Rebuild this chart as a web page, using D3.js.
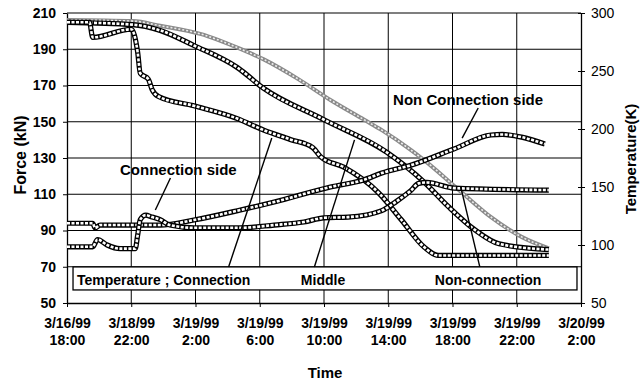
<!DOCTYPE html>
<html>
<head>
<meta charset="utf-8">
<script src="https://cdn.jsdelivr.net/npm/d3@7"></script>
<style>
  body { margin: 0; background: #fff; }
  svg text { font-family: "Liberation Sans", Arial, sans-serif; fill: #000; }
</style>
</head>
<body>
<div id="chart"></div>
<script>
// x axis: hours after 3/18/99 18:00
var tickHours = [0, 4, 8, 12, 16, 20, 24, 28, 32];
var tickDates = ["3/16/99", "3/18/99", "3/19/99", "3/19/99", "3/19/99", "3/19/99", "3/19/99", "3/19/99", "3/20/99"];
var tickTimes = ["18:00", "22:00", "2:00", "6:00", "10:00", "14:00", "18:00", "22:00", "2:00"];
var forceTicks = [50, 70, 90, 110, 130, 150, 170, 190, 210];
var tempTicks = [50, 100, 150, 200, 250, 300];

// temperatures (K), right axis
var conTempH = [0, 1.4, 1.6, 4.0, 4.4, 4.56, 5.06, 5.3, 5.7, 7.9, 10.6, 12.25, 13.9, 15.3, 15.8, 17.25, 19.4, 20.8, 22.25, 23.1, 30];
var conTempK = [292, 292, 279, 286, 266, 248, 243, 234, 228, 220, 209, 199, 191, 184, 176, 167, 145, 122, 98, 91, 91];
var midTempH = [0, 4.06, 5.8, 7.9, 10.6, 12.25, 16, 19.9, 22.25, 23.75, 25.4, 26.9, 30];
var midTempK = [292, 290, 285, 272, 253, 235, 208, 180, 154, 133, 113, 101, 96];
var ncTempH = [0, 4.1, 5.8, 8.3, 10.8, 12.25, 14.4, 16.4, 18.5, 19.6, 21.4, 22.25, 24.6, 26.4, 28.3, 30];
var ncTempK = [294, 293, 289, 282, 269, 260, 243, 225, 208, 199, 182, 173, 145, 124, 107, 97];

// bolt forces (kN), left axis
var cForceH = [0, 1.6, 1.9, 2.5, 3.3, 4.25, 4.4, 4.56, 4.9, 5.3, 5.8, 6.4, 7.9, 10.8, 12.9, 14.75, 16, 17.5, 19.6, 20.5, 21.4, 21.9, 22.4, 24.1, 30];
var cForceF = [81, 81, 85, 82, 80, 80, 87.5, 96, 98.5, 97.4, 96, 93, 91.5, 91.5, 93, 94.7, 97, 97.4, 101, 106, 112, 116, 116.5, 113.4, 112.3];
var ncForceH = [0, 1.6, 1.75, 2.06, 5.8, 7.9, 10.8, 12.9, 16.4, 18.5, 19.6, 21.4, 24.1, 26.4, 27.1, 28.3, 29.75];
var ncForceF = [94, 94, 91.4, 93, 93, 95.8, 101.3, 105.7, 114, 118, 121.7, 126, 135, 142.7, 143, 141.5, 137.7];

function zip(hs, vs) {
    return hs.map(function(h, i) { return [h, vs[i]]; });
}

var width = 643, height = 385;
var svg = d3.select("#chart").append("svg")
    .attr("width", width)
    .attr("height", height);

var x = d3.scaleLinear().domain([0, 32]).range([67, 581]);
var yF = d3.scaleLinear().domain([50, 210]).range([303, 13]);
var yT = d3.scaleLinear().domain([50, 300]).range([303, 13]);

// grid
svg.append("g").selectAll("line")
    .data(forceTicks.slice(1))
    .enter().append("line")
    .attr("x1", x(0)).attr("x2", x(32))
    .attr("y1", function(d) { return yF(d); })
    .attr("y2", function(d) { return yF(d); })
    .attr("stroke", "#000").attr("stroke-width", 1.2);

svg.append("g").selectAll("line")
    .data(tickHours.slice(1, -1))
    .enter().append("line")
    .attr("x1", function(d) { return x(d); })
    .attr("x2", function(d) { return x(d); })
    .attr("y1", yF(210)).attr("y2", yF(50))
    .attr("stroke", "#000").attr("stroke-width", 1);

// axes
var axL = svg.append("g").attr("transform", "translate(" + x(0) + ",0)")
    .call(d3.axisLeft(yF).tickValues(forceTicks).tickSize(4).tickSizeOuter(0));
var axR = svg.append("g").attr("transform", "translate(" + x(32) + ",0)")
    .call(d3.axisRight(yT).tickValues(tempTicks).tickSize(4).tickSizeOuter(0));
var axB = svg.append("g").attr("transform", "translate(0," + yF(50) + ")")
    .call(d3.axisBottom(x).tickValues(tickHours).tickSize(4).tickSizeOuter(0).tickFormat(""));

svg.selectAll(".domain").attr("stroke", "#000").attr("stroke-width", 1.3);
svg.selectAll(".tick line").attr("stroke", "#000");
axR.selectAll(".tick line").attr("x1", -3);

axL.selectAll("text").attr("x", -11)
    .style("font-size", "14px").style("font-weight", "bold");
axR.selectAll("text").attr("x", 10)
    .style("font-size", "14px");

var xl = axB.selectAll(".tick").append("g");
xl.append("text").attr("y", 25).attr("text-anchor", "middle")
    .style("font-size", "14px").style("font-weight", "bold")
    .text(function(d, i) { return tickDates[i]; });
xl.append("text").attr("y", 42).attr("text-anchor", "middle")
    .style("font-size", "14px").style("font-weight", "bold")
    .text(function(d, i) { return tickTimes[i]; });

svg.append("text").attr("x", 325).attr("y", 378).attr("text-anchor", "middle")
    .style("font-size", "15px").style("font-weight", "bold").text("Time");
svg.append("text").attr("transform", "translate(26,155) rotate(-90)")
    .attr("text-anchor", "middle")
    .style("font-size", "16px").style("font-weight", "bold").text("Force (kN)");
svg.append("text").attr("transform", "translate(636,159) rotate(-90)")
    .attr("text-anchor", "middle")
    .style("font-size", "15px").style("font-weight", "bold").text("Temperature(K)");

// curves
var lineT = d3.line().x(function(d) { return x(d[0]); }).y(function(d) { return yT(d[1]); })
    .curve(d3.curveMonotoneX);
var lineF = d3.line().x(function(d) { return x(d[0]); }).y(function(d) { return yF(d[1]); })
    .curve(d3.curveMonotoneX);

// chain of open squares look
function squares(path) {
    svg.append("path").attr("d", path).attr("fill", "none")
        .attr("stroke", "#000").attr("stroke-width", 5.2);
    svg.append("path").attr("d", path).attr("fill", "none")
        .attr("stroke", "#fff").attr("stroke-width", 2.6)
        .attr("stroke-dasharray", "3,1.5");
}

var ncPath = lineT(zip(ncTempH, ncTempK));
svg.append("path").attr("d", ncPath).attr("fill", "none")
    .attr("stroke", "#8a8a8a").attr("stroke-width", 4);
svg.append("path").attr("d", ncPath).attr("fill", "none")
    .attr("stroke", "#ececec").attr("stroke-width", 1.6)
    .attr("stroke-dasharray", "2,2");

squares(lineT(zip(midTempH, midTempK)));
squares(lineT(zip(conTempH, conTempK)));
squares(lineF(zip(ncForceH, ncForceF)));
squares(lineF(zip(cForceH, cForceF)));

// legend box
svg.append("rect")
    .attr("x", x(0.375)).attr("y", yF(69.9))
    .attr("width", x(31.75) - x(0.375)).attr("height", yF(57.2) - yF(69.9))
    .attr("fill", "#fff").attr("stroke", "#000").attr("stroke-width", 1.3);

var legendLabels = [
    { h: 0.625, text: "Temperature ; Connection" },
    { h: 14.56, text: "Middle" },
    { h: 22.9, text: "Non-connection" }
];
svg.selectAll(".leg").data(legendLabels).enter().append("text")
    .attr("x", function(d) { return x(d.h); }).attr("y", yF(59.9))
    .style("font-size", "14px").style("font-weight", "bold")
    .text(function(d) { return d.text; });

// leader lines
var leaders = [
    [10.06, 69.9, 12.75, 141],
    [15.4, 69.9, 17.9, 140],
    [25.7, 69.9, 24.5, 114.5],
    [6.44, 119, 5.5, 101.3],
    [25.6, 157.6, 24.6, 141]
];
svg.selectAll(".leader").data(leaders).enter().append("line")
    .attr("x1", function(d) { return x(d[0]); }).attr("y1", function(d) { return yF(d[1]); })
    .attr("x2", function(d) { return x(d[2]); }).attr("y2", function(d) { return yF(d[3]); })
    .attr("stroke", "#000").attr("stroke-width", 1.4);

var notes = [
    { h: 3.3, f: 120.6, text: "Connection side" },
    { h: 20.3, f: 159.2, text: "Non Connection side" }
];
svg.selectAll(".note").data(notes).enter().append("text")
    .attr("x", function(d) { return x(d.h); }).attr("y", function(d) { return yF(d.f); })
    .style("font-size", "15px").style("font-weight", "bold")
    .text(function(d) { return d.text; });
</script>
</body>
</html>
